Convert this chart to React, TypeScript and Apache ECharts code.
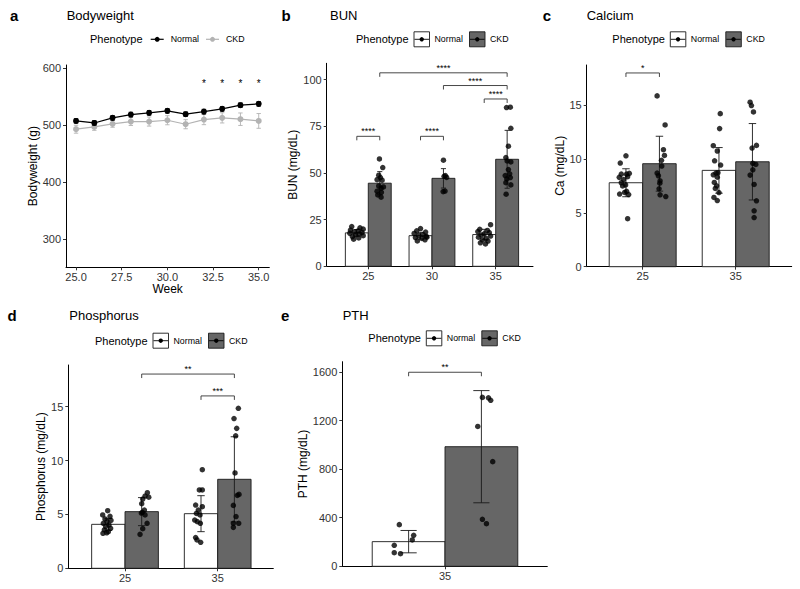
import React, { useEffect, useRef } from 'react';
import * as echarts from 'echarts';

const FONT = '"Liberation Sans", Arial, Helvetica, sans-serif';

// ---------- Panel a: Bodyweight ----------
const weeks = [25, 26, 27, 28, 29, 30, 31, 32, 33, 34, 35];
const bwNormal = [507.6, 504, 513, 518.8, 521.8, 525.3, 519.4, 524, 528.8, 535.3, 537.6];
const bwNormalSd = [4, 4, 4, 4, 4, 4, 4, 4, 4, 4, 4];
const bwCkd = [493, 497, 502.4, 506.5, 506.5, 508.8, 501.8, 510, 513, 510.6, 507.6];
const bwCkdSd = [7, 6, 6, 7, 8, 8, 8, 9, 9, 11, 13];
const bwStarWeeks = [32, 33, 34, 35];
const bwStarLevel = 574;
const bwTicks = [300, 400, 500, 600];
const weekTicks = [25, 27.5, 30, 32.5, 35];

// ---------- Panel b: BUN ----------
const bunCats = ['25', '30', '35'];
const bunTicks = [0, 25, 50, 75, 100];
const bunNormalMean = [17.9, 16.4, 17.0];
const bunNormalSd = [1.8, 1.8, 2.8];
const bunCkdMean = [44.5, 47.1, 57.3];
const bunCkdSd = [6.2, 5.2, 15.5];
const bunNormalDots: [number, number][][] = [
  [[-0.08, 21.3], [0.05, 20.6], [0.1, 19.9], [-0.1, 19.4], [0.02, 19.0], [-0.04, 18.5], [0.08, 18.1], [-0.11, 17.7], [0.04, 17.3], [-0.02, 16.8], [0.1, 16.4], [-0.07, 15.9], [0.03, 15.2], [-0.05, 14.5]],
  [[0.0, 20.2], [-0.06, 19.0], [0.08, 18.3], [-0.1, 17.6], [0.04, 17.0], [-0.03, 16.5], [0.09, 16.0], [-0.08, 15.4], [0.02, 14.9], [0.07, 14.2], [-0.05, 13.6], [0.1, 15.6]],
  [[0.1, 22.3], [-0.07, 19.8], [0.05, 19.2], [-0.1, 18.6], [0.08, 18.0], [0.0, 17.4], [-0.05, 16.8], [0.1, 16.2], [-0.09, 15.6], [0.03, 14.9], [-0.03, 14.2], [0.06, 13.5], [-0.06, 12.6], [0.02, 12.0]],
];
const bunCkdDots: [number, number][][] = [
  [[-0.005, 57.5], [0.047, 52.9], [-0.016, 48.8], [0.01, 47.5], [-0.042, 46.4], [0.037, 46.1], [-0.016, 43.0], [0.058, 42.5], [0.021, 41.8], [-0.042, 40.2], [0.026, 39.6], [0.021, 37.0], [-0.031, 38.2]],
  [[0.0, 56.8], [0.01, 48.2], [0.05, 47.6], [0.03, 48.6], [-0.005, 40.0], [0.025, 40.3]],
  [[-0.01, 85.0], [0.05, 85.2], [0.058, 73.9], [0.02, 64.3], [-0.02, 58.2], [0.0, 56.4], [0.058, 55.9], [0.02, 51.8], [0.04, 49.5], [-0.03, 48.6], [-0.005, 46.8], [0.05, 47.5], [-0.02, 44.8], [0.058, 43.6], [-0.016, 38.6]],
];
// [category A, group A (0 Normal, 1 CKD), category B, group B, level]
const bunBrackets: number[][] = [[1, 0, 1, 1, 69.6], [2, 0, 2, 1, 69.6], [3, 0, 3, 1, 89.6], [2, 1, 3, 1, 96.8], [1, 1, 3, 1, 103.6]];
const bunBracketLabels = ['****', '****', '****', '****', '****'];

// ---------- Panel c: Calcium ----------
const caCats = ['25', '35'];
const caTicks = [0, 5, 10, 15];
const caNormalMean = [7.8, 8.95];
const caNormalSd = [1.3, 2.12];
const caCkdMean = [9.57, 9.75];
const caCkdSd = [2.55, 3.55];
const caNormalDots: [number, number][][] = [
  [[-0.061, 9.63], [0.0, 10.3], [-0.05, 8.6], [0.007, 8.6], [0.036, 8.67], [-0.072, 8.3], [-0.025, 8.1], [0.018, 8.36], [-0.05, 7.8], [-0.004, 7.6], [-0.036, 7.5], [-0.068, 6.75], [-0.014, 6.9], [0.029, 6.7], [0.007, 7.0], [0.018, 4.46]],
  [[0.014, 14.22], [0.007, 12.83], [-0.061, 11.24], [-0.018, 10.75], [-0.047, 9.84], [0.018, 9.44], [-0.061, 8.54], [-0.032, 8.7], [-0.018, 8.32], [-0.011, 8.73], [-0.05, 7.83], [-0.025, 7.52], [-0.039, 7.27], [0.0, 6.89], [-0.054, 6.43], [-0.018, 6.15]],
];
const caCkdDots: [number, number][][] = [
  [[-0.025, 15.87], [0.061, 13.17], [0.043, 10.87], [0.054, 10.34], [0.022, 9.88], [0.025, 9.35], [-0.025, 8.7], [-0.011, 8.45], [0.007, 7.98], [0.004, 7.76], [-0.004, 7.24], [0.007, 6.68], [0.068, 6.52]],
  [[-0.025, 15.28], [-0.011, 14.97], [0.011, 14.38], [0.043, 11.27], [-0.004, 11.02], [0.004, 9.6], [0.036, 9.5], [-0.025, 8.51], [0.004, 9.0], [0.018, 7.64], [0.043, 6.12], [0.018, 5.19], [0.018, 4.57]],
];
const caBrackets: number[][] = [[1, 0, 1, 1, 18.0]];
const caBracketLabels = ['*'];

// ---------- Panel d: Phosphorus ----------
const phCats = ['25', '35'];
const phTicks = [0, 5, 10, 15];
const phNormalMean = [4.08, 5.07];
const phNormalSd = [0.55, 1.67];
const phCkdMean = [5.26, 8.26];
const phCkdSd = [1.3, 3.95];
const phNormalDots: [number, number][][] = [
  [[-0.007, 5.35], [-0.061, 4.95], [0.018, 4.83], [-0.036, 4.58], [0.029, 4.45], [-0.014, 4.33], [-0.054, 4.18], [0.007, 4.02], [-0.029, 3.87], [0.025, 3.71], [-0.043, 3.56], [0.0, 3.4], [-0.058, 3.25], [-0.018, 3.3]],
  [[0.014, 9.15], [-0.018, 7.27], [0.014, 7.27], [-0.058, 5.87], [0.014, 5.72], [-0.029, 5.41], [-0.05, 5.1], [-0.011, 4.95], [-0.068, 4.48], [-0.04, 4.33], [-0.007, 4.18], [-0.058, 2.85], [-0.043, 2.63], [-0.004, 2.41]],
];
const phCkdDots: [number, number][][] = [
  [[0.061, 7.02], [0.036, 6.71], [0.076, 6.6], [0.011, 6.43], [0.0, 6.0], [0.029, 5.41], [-0.004, 5.13], [0.036, 4.95], [0.058, 4.18], [0.011, 3.68], [-0.018, 3.15], [0.007, 5.2]],
  [[0.043, 14.85], [-0.004, 13.9], [0.025, 12.99], [0.014, 12.3], [0.007, 8.85], [0.05, 6.86], [0.032, 6.77], [-0.011, 5.84], [0.018, 4.8], [-0.011, 4.18], [0.047, 4.18], [-0.011, 3.8]],
];
const phBrackets: number[][] = [[1, 1, 2, 1, 18.03], [2, 0, 2, 1, 16.0]];
const phBracketLabels = ['**', '***'];

// ---------- Panel e: PTH ----------
const pthCats = ['35'];
const pthTicks = [0, 400, 800, 1200, 1600];
const pthNormalMean = [203];
const pthNormalSd = [92];
const pthCkdMean = [985];
const pthCkdSd = [462];
const pthNormalDots: [number, number][][] = [
  [[-0.046, 343], [-0.071, 173], [-0.071, 112], [-0.04, 104], [0.018, 217], [0.025, 255]],
];
const pthCkdDots: [number, number][][] = [
  [[0.005, 1391], [0.035, 1388], [0.046, 1367], [-0.018, 1152], [0.056, 862], [0.005, 387], [0.025, 351]],
];
const pthBrackets: number[][] = [[1, 0, 1, 1, 1598]];
const pthBracketLabels = ['**'];

// ---------- styling / layout ----------
const BAR_HALF = 0.18;
const CAP_HALF = 0.04;
const NORMAL_FILL = '#ffffff';
const CKD_FILL = '#666666';
const CKD_LINE = '#b3b3b3';
const EDGE = '#1a1a1a';
const TICK_TEXT = '#333333';

const grids = [
  { left: 66, top: 65, width: 203.3, height: 202.3 },
  { left: 326.7, top: 63.3, width: 206.3, height: 203 },
  { left: 586.7, top: 65, width: 205, height: 201.7 },
  { left: 68.3, top: 365, width: 205, height: 203.3 },
  { left: 342.3, top: 361.7, width: 205, height: 204.6 },
];

function labelStyle(fmt: (v: number) => string, values: number[], margin: number) {
  return {
    show: true, customValues: values, margin,
    formatter: fmt,
    color: TICK_TEXT, fontSize: 11, fontFamily: FONT,
  };
}

function xAxisFor(idx: number, min: number, max: number, values: number[], fmt: (v: number) => string, name?: string) {
  return {
    type: 'value', gridIndex: idx, min, max,
    axisLine: { show: true, onZero: false, lineStyle: { color: '#000', width: 1 } },
    axisTick: { show: true, length: 3, customValues: values, lineStyle: { color: '#333', width: 1 } },
    axisLabel: labelStyle(fmt, values, 4),
    splitLine: { show: false },
    name: name || '', nameLocation: 'middle', nameGap: 16,
    nameTextStyle: { fontSize: 12, color: '#000', fontFamily: FONT },
  };
}

function yAxisFor(idx: number, min: number, max: number, values: number[], name: string, gap: number) {
  return {
    type: 'value', gridIndex: idx, min, max,
    axisLine: { show: true, onZero: false, lineStyle: { color: '#000', width: 1 } },
    axisTick: { show: true, length: 3, customValues: values, lineStyle: { color: '#333', width: 1 } },
    axisLabel: labelStyle((v: number) => String(v), values, 5),
    splitLine: { show: false },
    name, nameLocation: 'middle', nameGap: gap,
    nameTextStyle: { fontSize: 12, color: '#000', fontFamily: FONT },
  };
}

function barSeries(idx: number, means: number[], offset: number, fill: string) {
  return {
    type: 'custom', xAxisIndex: idx, yAxisIndex: idx, z: 1,
    data: means.map((m, i) => [i + 1 + offset, m]),
    renderItem: (_p: any, api: any) => {
      const x = api.value(0);
      const v = api.value(1);
      const a = api.coord([x - BAR_HALF, 0]);
      const b = api.coord([x + BAR_HALF, v]);
      return {
        type: 'rect',
        shape: { x: a[0], y: b[1], width: b[0] - a[0], height: a[1] - b[1] },
        style: { fill, stroke: EDGE, lineWidth: 0.9 },
      };
    },
  };
}

function errSeries(idx: number, xs: number[], means: number[], sds: number[], capHalf: number, color: string, z: number) {
  return {
    type: 'custom', xAxisIndex: idx, yAxisIndex: idx, z,
    data: means.map((m, i) => [xs[i], m, sds[i]]),
    renderItem: (_p: any, api: any) => {
      const x = api.value(0);
      const m = api.value(1);
      const s = api.value(2);
      const top = api.coord([x, m + s]);
      const bot = api.coord([x, m - s]);
      const l = api.coord([x - capHalf, m])[0];
      const r = api.coord([x + capHalf, m])[0];
      const st = { stroke: color, lineWidth: 0.9 };
      return {
        type: 'group',
        children: [
          { type: 'line', shape: { x1: top[0], y1: top[1], x2: bot[0], y2: bot[1] }, style: st },
          { type: 'line', shape: { x1: l, y1: top[1], x2: r, y2: top[1] }, style: st },
          { type: 'line', shape: { x1: l, y1: bot[1], x2: r, y2: bot[1] }, style: st },
        ],
      };
    },
  };
}

function dotSeries(idx: number, dots: [number, number][][], offset: number) {
  const data: number[][] = [];
  dots.forEach((grp, ci) => grp.forEach(([j, v]) => data.push([ci + 1 + offset + j, v])));
  return {
    type: 'scatter', xAxisIndex: idx, yAxisIndex: idx, z: 4,
    symbol: 'circle', symbolSize: 5.5, itemStyle: { color: '#000' },
    data,
  };
}

function bracketSeries(idx: number, brackets: number[][], labels: string[]) {
  return {
    type: 'custom', xAxisIndex: idx, yAxisIndex: idx, z: 5,
    data: brackets.map((b) => [b[0] + (b[1] ? BAR_HALF : -BAR_HALF), b[2] + (b[3] ? BAR_HALF : -BAR_HALF), b[4]]),
    renderItem: (p: any, api: any) => {
      const p1 = api.coord([api.value(0), api.value(2)]);
      const p2 = api.coord([api.value(1), api.value(2)]);
      const y = p1[1];
      return {
        type: 'group',
        children: [
          {
            type: 'polyline',
            shape: { points: [[p1[0], y + 4], [p1[0], y], [p2[0], y], [p2[0], y + 4]] },
            style: { stroke: '#333', lineWidth: 0.9, fill: null },
          },
          {
            type: 'text',
            style: {
              text: labels[p.dataIndex], x: (p1[0] + p2[0]) / 2, y: y - 5,
              align: 'center', verticalAlign: 'middle', fontSize: 9, fontFamily: FONT, fill: '#000',
            },
          },
        ],
      };
    },
  };
}

function barPanel(idx: number, nMean: number[], nSd: number[], cMean: number[], cSd: number[],
  nDots: [number, number][][], cDots: [number, number][][], brackets: number[][], labels: string[]) {
  const nx = nMean.map((_, i) => i + 1 - BAR_HALF);
  const cx = cMean.map((_, i) => i + 1 + BAR_HALF);
  return [
    barSeries(idx, nMean, -BAR_HALF, NORMAL_FILL),
    barSeries(idx, cMean, BAR_HALF, CKD_FILL),
    errSeries(idx, nx, nMean, nSd, CAP_HALF, '#1a1a1a', 3),
    errSeries(idx, cx, cMean, cSd, CAP_HALF, '#1a1a1a', 3),
    dotSeries(idx, nDots, -BAR_HALF),
    dotSeries(idx, cDots, BAR_HALF),
    bracketSeries(idx, brackets, labels),
  ];
}

function txt(text: string, x: number, y: number, size: number, extra: any = {}) {
  return {
    type: 'text', silent: true,
    style: { text, x, y, fontSize: size, fontFamily: FONT, fill: '#000', verticalAlign: 'middle', align: 'left', ...extra },
  };
}

function boxLegend(x0: number, cy: number) {
  const els: any[] = [txt('Phenotype', x0, cy, 11)];
  const keys = [
    { bx: x0 + 58, tx: x0 + 78.5, fill: NORMAL_FILL, label: 'Normal' },
    { bx: x0 + 113.5, tx: x0 + 134, fill: CKD_FILL, label: 'CKD' },
  ];
  keys.forEach((k) => {
    els.push({ type: 'rect', silent: true, shape: { x: k.bx, y: cy - 7.5, width: 15.5, height: 15 }, style: { fill: k.fill, stroke: EDGE, lineWidth: 0.9 } });
    els.push({ type: 'line', silent: true, shape: { x1: k.bx + 0.5, y1: cy, x2: k.bx + 15, y2: cy }, style: { stroke: '#000', lineWidth: 0.9 } });
    els.push({ type: 'circle', silent: true, shape: { cx: k.bx + 7.75, cy, r: 2.2 }, style: { fill: '#000' } });
    els.push(txt(k.label, k.tx, cy, 8.8));
  });
  return els;
}

function lineLegend(x0: number, cy: number) {
  const els: any[] = [txt('Phenotype', x0, cy, 11)];
  const keys = [
    { lx: x0 + 60.7, tx: x0 + 80.7, color: '#000', label: 'Normal' },
    { lx: x0 + 116, tx: x0 + 136, color: CKD_LINE, label: 'CKD' },
  ];
  keys.forEach((k) => {
    els.push({ type: 'line', silent: true, shape: { x1: k.lx, y1: cy, x2: k.lx + 13, y2: cy }, style: { stroke: k.color, lineWidth: 1.2 } });
    els.push({ type: 'circle', silent: true, shape: { cx: k.lx + 6.5, cy, r: 2.5 }, style: { fill: k.color } });
    els.push(txt(k.label, k.tx, cy, 8.8));
  });
  return els;
}

export default function App() {
  const ref = useRef<HTMLDivElement>(null);
  useEffect(() => {
    if (!ref.current) return;
    const chart = echarts.init(ref.current, undefined, { renderer: 'svg' });
    const catFmt = (cats: string[]) => (v: number) => cats[Math.round(v) - 1] ?? '';

    const series: any[] = [
      // panel a
      errSeries(0, weeks, bwCkd, bwCkdSd, 0.12, CKD_LINE, 2),
      {
        type: 'line', xAxisIndex: 0, yAxisIndex: 0, z: 3,
        data: weeks.map((w, i) => [w, bwCkd[i]]),
        symbol: 'circle', symbolSize: 6,
        lineStyle: { color: CKD_LINE, width: 1.2 }, itemStyle: { color: CKD_LINE },
      },
      errSeries(0, weeks, bwNormal, bwNormalSd, 0.12, '#000', 4),
      {
        type: 'line', xAxisIndex: 0, yAxisIndex: 0, z: 5,
        data: weeks.map((w, i) => [w, bwNormal[i]]),
        symbol: 'circle', symbolSize: 6,
        lineStyle: { color: '#000', width: 1.2 }, itemStyle: { color: '#000' },
      },
      {
        type: 'custom', xAxisIndex: 0, yAxisIndex: 0, z: 6,
        data: bwStarWeeks.map((w) => [w, bwStarLevel]),
        renderItem: (_p: any, api: any) => {
          const pt = api.coord([api.value(0), api.value(1)]);
          return { type: 'text', style: { text: '*', x: pt[0], y: pt[1], align: 'center', verticalAlign: 'middle', fontSize: 10, fontFamily: FONT, fill: '#000' } };
        },
      },
      ...barPanel(1, bunNormalMean, bunNormalSd, bunCkdMean, bunCkdSd, bunNormalDots, bunCkdDots, bunBrackets, bunBracketLabels),
      ...barPanel(2, caNormalMean, caNormalSd, caCkdMean, caCkdSd, caNormalDots, caCkdDots, caBrackets, caBracketLabels),
      ...barPanel(3, phNormalMean, phNormalSd, phCkdMean, phCkdSd, phNormalDots, phCkdDots, phBrackets, phBracketLabels),
      ...barPanel(4, pthNormalMean, pthNormalSd, pthCkdMean, pthCkdSd, pthNormalDots, pthCkdDots, pthBrackets, pthBracketLabels),
    ];

    const graphic: any[] = [
      txt('a', 10, 15, 15, { fontWeight: 'bold' }),
      txt('Bodyweight', 66.7, 15, 13),
      txt('b', 281.5, 15, 15, { fontWeight: 'bold' }),
      txt('BUN', 330, 15, 13),
      txt('c', 542.7, 15, 15, { fontWeight: 'bold' }),
      txt('Calcium', 586.7, 15, 13),
      txt('d', 7.5, 315, 15, { fontWeight: 'bold' }),
      txt('Phosphorus', 69.3, 315, 13),
      txt('e', 281, 315, 15, { fontWeight: 'bold' }),
      txt('PTH', 342.7, 315, 13),
      ...lineLegend(90, 39.3),
      ...boxLegend(356, 39.3),
      ...boxLegend(612.3, 39.3),
      ...boxLegend(95, 340.7),
      ...boxLegend(368.3, 338.3),
    ];

    chart.setOption({
      animation: false,
      backgroundColor: '#ffffff',
      textStyle: { fontFamily: FONT },
      grid: grids.map((g) => ({ ...g, containLabel: false })),
      xAxis: [
        xAxisFor(0, 24.45, 35.58, weekTicks, (v: number) => v.toFixed(1), 'Week'),
        xAxisFor(1, 0.347, 3.586, [1, 2, 3], catFmt(bunCats)),
        xAxisFor(2, 0.398, 2.602, [1, 2], catFmt(caCats)),
        xAxisFor(3, 0.388, 2.6, [1, 2], catFmt(phCats)),
        xAxisFor(4, 0.492, 1.506, [1], catFmt(pthCats)),
      ],
      yAxis: [
        yAxisFor(0, 250, 606, bwTicks, 'Bodyweight (g)', 27),
        yAxisFor(1, 0, 108.7, bunTicks, 'BUN (mg/dL)', 21.5),
        yAxisFor(2, 0, 18.74, caTicks, 'Ca (mg/dL)', 19),
        yAxisFor(3, 0, 18.87, phTicks, 'Phosphorus (mg/dL)', 17.5),
        yAxisFor(4, 0, 1685, pthTicks, 'PTH (mg/dL)', 31),
      ],
      series,
      graphic,
    });
    return () => chart.dispose();
  }, []);
  return <div ref={ref} style={{ position: 'fixed', left: 0, top: 0, width: 800, height: 589, background: '#fff' }} />;
}
